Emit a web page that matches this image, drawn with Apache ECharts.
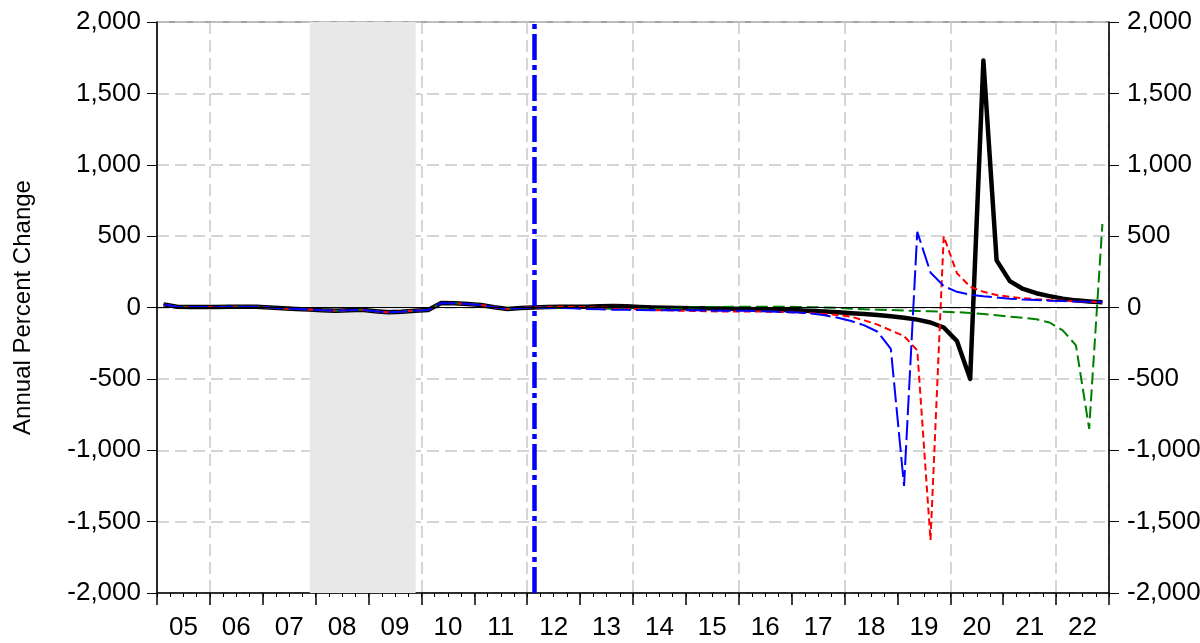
<!DOCTYPE html>
<html><head><meta charset="utf-8">
<script src="https://cdn.jsdelivr.net/npm/echarts@6/dist/echarts.min.js"></script>
<style>html,body{margin:0;padding:0;background:#fff}#c{width:1200px;height:643px}</style>
</head><body><div id="c"></div><script>
const yearLabels = ['05','06','07','08','09','10','11','12','13','14','15','16','17','18','19','20','21','22'];
const years = [2005,2006,2007,2008,2009,2010,2011,2012,2013,2014,2015,2016,2017,2018,2019,2020,2021,2022];
const quarterLabels = [];
years.forEach(y => { for (let q = 1; q <= 4; q++) quarterLabels.push(y + 'Q' + q); });

// quarterly values 2005Q1 .. 2022Q4
const blackSeries = [
  22, 5, 3, 3,   4, 5, 6, 6,   0, -6, -10, -14,   -20, -22, -20, -16,   -26, -34, -30, -22,
  -18, 32, 30, 24,   18, 2, -10, -4,   0, 4, 6, 5,   6, 8, 10, 8,   3, 0, -2, -3,
  -5, -6, -7, -8,   -10, -12, -14, -17,   -20, -24, -28, -34,   -40, -46, -53, -62,
  -72, -85, -105, -140,   -235, -500, 1730, 330,   185, 130, 100, 80,   62, 50, 42, 36
];
const blueSeries = [
  22, 5, 3, 3,   4, 5, 6, 6,   0, -6, -10, -14,   -20, -22, -20, -16,   -26, -34, -30, -22,
  -18, 32, 30, 24,   18, 2, -10, -4,   0, -2, -4, -6,   -10, -13, -15, -16,   -18, -20, -20, -20,
  -20, -21, -22, -22,   -23, -25, -28, -32,   -35, -42, -55, -72,   -95, -125, -170, -290,
  -1250, 530, 245, 150,   110, 90, 78, 70,   62, 56, 52, 48,   45, 42, 40, 38
];
const redSeries = [
  22, 5, 3, 3,   4, 5, 6, 6,   0, -6, -10, -14,   -20, -22, -20, -16,   -26, -34, -30, -22,
  -18, 32, 30, 24,   18, 2, -10, -4,   2, 4, 5, 4,   2, 0, -3, -8,   -14, -18, -20, -22,
  -24, -26, -28, -28,   -28, -28, -30, -32,   -35, -40, -45, -52,   -65, -90, -120, -160,
  -200, -300, -1630, 500,   240, 145, 110, 88,   75, 65, 58, 52,   47, 43, 40, 37
];
const greenSeries = [
  22, 5, 3, 3,   4, 5, 6, 6,   0, -6, -10, -14,   -20, -22, -20, -16,   -26, -34, -30, -22,
  -18, 32, 30, 24,   18, 2, -10, -4,   0, 0, -2, -4,   -6, -8, -8, -8,   -8, -6, -4, -2,
  0, 2, 4, 5,   6, 6, 6, 5,   4, 2, 0, -3,   -8, -12, -15, -18,
  -21, -24, -27, -30,   -33, -38, -45, -55,   -65, -72, -82, -105,   -160, -265, -850, 585
];
const yMin = -2000, yMax = 2000, yStep = 500;
const recessionStart = 2007.89, recessionEnd = 2009.89;
const markerQuarter = '2012Q1';

function quarterPos(label) { const y = +label.slice(0, 4), q = +label.slice(5); return y + (q - 0.5) / 4; }
function pairs(vals) { return vals.map((v, i) => [quarterPos(quarterLabels[i]), v]); }

const FONT = "'Liberation Sans Narrow', 'Arial Narrow', 'Liberation Sans', Arial, sans-serif";
const gridLine = { color: '#c8c8c8', type: [12, 6], width: 1.5 };
const fmt = v => v.toLocaleString('en-US');

const chart = echarts.init(document.getElementById('c'), null, { renderer: 'canvas' });
chart.setOption({
  animation: false,
  backgroundColor: '#fff',
  grid: { left: 157, right: 91, top: 22, bottom: 50, outerBoundsMode: 'none', containLabel: false,
    show: true, borderColor: '#444', borderWidth: 1, backgroundColor: 'transparent' },
  xAxis: [
    { type: 'value', min: years[0], max: years[years.length - 1] + 1, interval: 0.25, position: 'bottom',
      axisLine: { show: true, onZero: false, lineStyle: { color: '#000', width: 1.5 } },
      axisTick: { show: true, length: 4, lineStyle: { color: '#000', width: 1 } },
      axisLabel: { show: false }, splitLine: { show: false } },
    { type: 'category', data: yearLabels, boundaryGap: true, position: 'bottom',
      axisLine: { show: false, onZero: false },
      axisTick: { show: true, length: 12, interval: 0, lineStyle: { color: '#000', width: 1.5 } },
      axisLabel: { interval: 0, fontSize: 26, color: '#000', margin: 22, fontFamily: FONT },
      splitLine: { show: true, interval: (i) => i % 2 === 1, lineStyle: gridLine } }
  ],
  yAxis: [
    { type: 'value', min: yMin, max: yMax, interval: yStep, position: 'left',
      name: 'Annual Percent Change', nameLocation: 'middle', nameGap: 122, nameRotate: 90,
      nameTextStyle: { fontSize: 24, color: '#000', fontFamily: FONT },
      axisLine: { show: true, onZero: false, lineStyle: { color: '#000', width: 1.5 } },
      axisTick: { show: true, length: 10, lineStyle: { color: '#000' } },
      axisLabel: { fontSize: 26, color: '#000', margin: 16, fontFamily: FONT, formatter: fmt },
      splitLine: { show: true, lineStyle: gridLine } },
    { type: 'value', min: yMin, max: yMax, interval: yStep, position: 'right',
      axisLine: { show: true, onZero: false, lineStyle: { color: '#000', width: 1.5 } },
      axisTick: { show: true, length: 10, lineStyle: { color: '#000' } },
      axisLabel: { fontSize: 26, color: '#000', margin: 18, fontFamily: FONT, formatter: fmt },
      splitLine: { show: false } }
  ],
  series: [
    { type: 'line', name: 'black', data: pairs(blackSeries), showSymbol: false, symbol: 'none',
      lineStyle: { color: '#000', width: 4.5, join: 'round' }, z: 3,
      markArea: { silent: true, itemStyle: { color: '#e8e8e8' }, data: [[{ xAxis: recessionStart }, { xAxis: recessionEnd }]] },
      markLine: { silent: true, symbol: 'none', label: { show: false }, lineStyle: { color: '#000', width: 1, type: 'solid' }, data: [{ yAxis: 0 }] } },
    { type: 'line', name: 'green', data: pairs(greenSeries), showSymbol: false, symbol: 'none',
      lineStyle: { color: '#008000', width: 2, type: [12, 5] }, z: 4 },
    { type: 'line', name: 'red', data: pairs(redSeries), showSymbol: false, symbol: 'none',
      lineStyle: { color: '#ff0000', width: 2, type: [7, 4] }, z: 4 },
    { type: 'line', name: 'blue', data: pairs(blueSeries), showSymbol: false, symbol: 'none',
      lineStyle: { color: '#0000ff', width: 2, type: [20, 5] }, z: 4,
      markLine: { silent: true, symbol: 'none', label: { show: false }, lineStyle: { color: '#0000ff', width: 4.5, type: [26, 5, 5, 5] }, data: [{ xAxis: quarterPos(markerQuarter) }] } }
  ]
});
</script></body></html>
